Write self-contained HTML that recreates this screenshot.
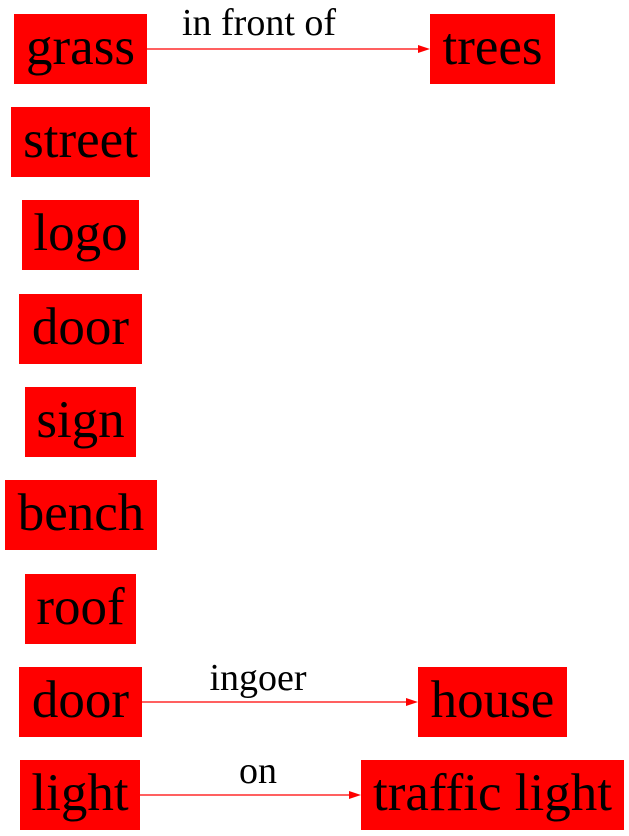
<!DOCTYPE html>
<html><head><meta charset="utf-8"><style>
html,body{margin:0;padding:0;background:#fff;width:629px;height:836px;overflow:hidden}
svg text{font-family:"Liberation Serif",serif;fill:#000}
.n{font-size:53px}
.e{font-size:38px}
</style></head><body>
<svg width="629" height="836" viewBox="0 0 629 836" xmlns="http://www.w3.org/2000/svg">
<g><rect x="14" y="14" width="133" height="70" fill="#f00"/><text class="n" x="80.5" y="47" text-anchor="middle" dominant-baseline="central">grass</text></g>
<g><rect x="430" y="14" width="125" height="70" fill="#f00"/><text class="n" x="492.5" y="47" text-anchor="middle" dominant-baseline="central">trees</text></g>
<g><rect x="11" y="107" width="139" height="70" fill="#f00"/><text class="n" x="80.5" y="140" text-anchor="middle" dominant-baseline="central">street</text></g>
<g><rect x="22" y="200" width="117" height="70" fill="#f00"/><text class="n" x="80.5" y="233" text-anchor="middle" dominant-baseline="central">logo</text></g>
<g><rect x="19" y="294" width="123" height="70" fill="#f00"/><text class="n" x="80.5" y="327" text-anchor="middle" dominant-baseline="central">door</text></g>
<g><rect x="25" y="387" width="111" height="70" fill="#f00"/><text class="n" x="80.5" y="420" text-anchor="middle" dominant-baseline="central">sign</text></g>
<g><rect x="5" y="480" width="152" height="70" fill="#f00"/><text class="n" x="81" y="513" text-anchor="middle" dominant-baseline="central">bench</text></g>
<g><rect x="25" y="574" width="111" height="70" fill="#f00"/><text class="n" x="80.5" y="607" text-anchor="middle" dominant-baseline="central">roof</text></g>
<g><rect x="19" y="667" width="123" height="70" fill="#f00"/><text class="n" x="80.5" y="700" text-anchor="middle" dominant-baseline="central">door</text></g>
<g><rect x="418" y="667" width="149" height="70" fill="#f00"/><text class="n" x="492.5" y="700" text-anchor="middle" dominant-baseline="central">house</text></g>
<g><rect x="20" y="760" width="120" height="70" fill="#f00"/><text class="n" x="80" y="793" text-anchor="middle" dominant-baseline="central">light</text></g>
<g><rect x="361" y="760" width="263" height="70" fill="#f00"/><text class="n" x="492.5" y="793" text-anchor="middle" dominant-baseline="central">traffic light</text></g>

<g><line x1="147" y1="49" x2="419" y2="49" stroke="#f00" stroke-width="1.3"/><polygon points="430,49 418,45 418,53" fill="#f00"/><text class="e" x="259" y="35" text-anchor="middle">in front of</text></g>
<g><line x1="142" y1="702" x2="407" y2="702" stroke="#f00" stroke-width="1.3"/><polygon points="418,702 406,698 406,706" fill="#f00"/><text class="e" x="258" y="690" text-anchor="middle">ingoer</text></g>
<g><line x1="140" y1="795" x2="350" y2="795" stroke="#f00" stroke-width="1.3"/><polygon points="361,795 349,791 349,799" fill="#f00"/><text class="e" x="258" y="783" text-anchor="middle">on</text></g>
</svg>
</body></html>
